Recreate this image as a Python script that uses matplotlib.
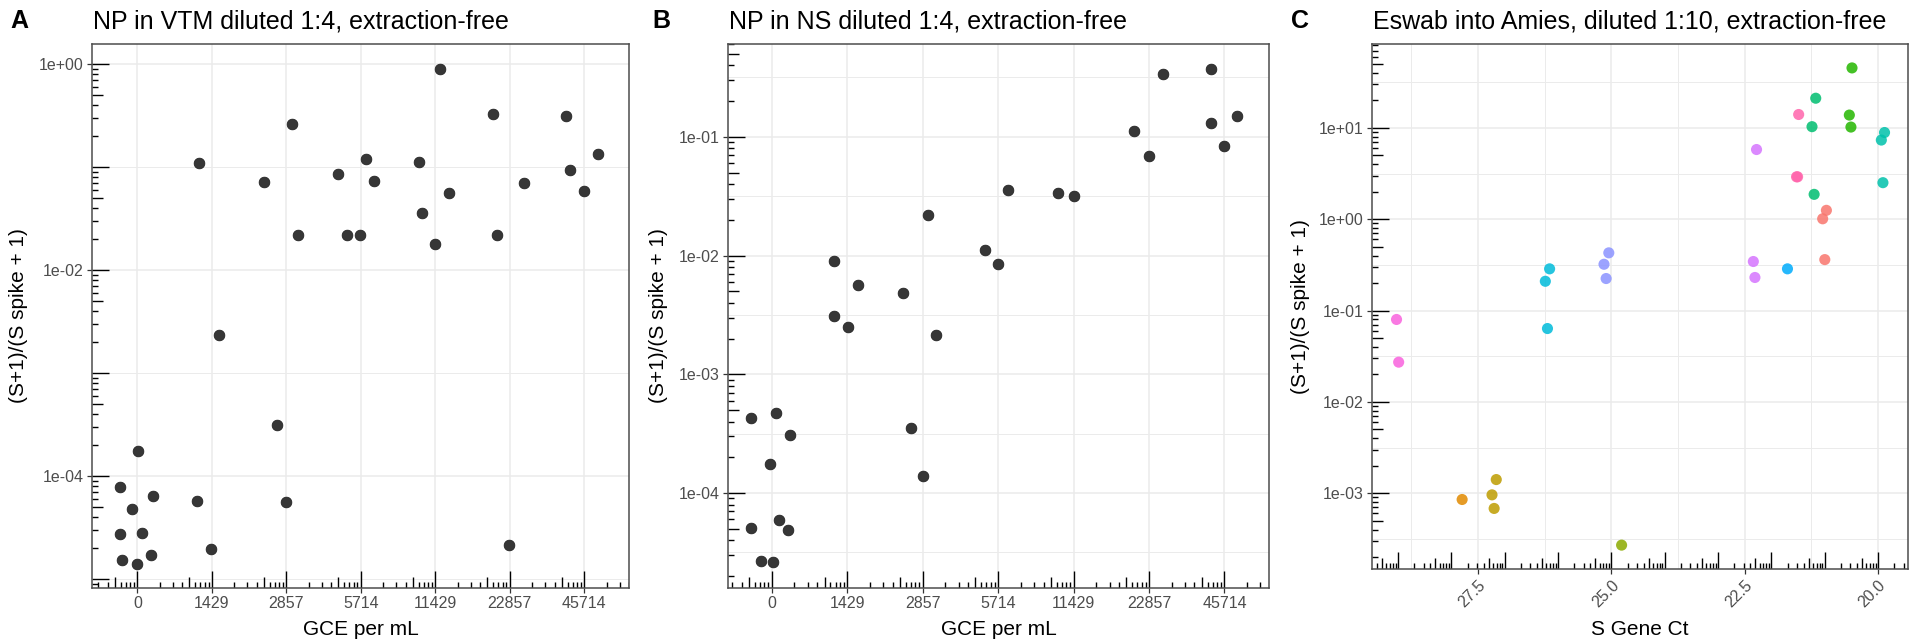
import numpy as np
import matplotlib
matplotlib.use('Agg')
import matplotlib.pyplot as plt
from matplotlib.collections import LineCollection
from matplotlib.ticker import FixedLocator, NullLocator, NullFormatter

plt.rcParams['font.family'] = ['Liberation Sans', 'DejaVu Sans']

# ---- data -------------------------------------------------------------
dose_labels = ['0', '1429', '2857', '5714', '11429', '22857', '45714']

# panel A: NP in VTM (x = jittered dose index)
vtm_x = [0.825, 1.70, 2.07, 2.16, 2.69, 2.81, 2.99, 3.07, 3.17, 3.78, 3.82, 4.00,
         4.06, 4.18, 4.78, 4.83, 5.19, 5.75, 5.81, 6.00, 6.19, 1.10, 1.87, 0.01,
         -0.23, 0.21, 0.80, 1.99, -0.07, -0.24, 0.06, 0.99, 4.99, -0.21, 0.00, 0.18]
vtm_ratio = [0.109, 0.0715, 0.259, 0.0217, 0.0861, 0.0219, 0.0219, 0.120, 0.0726,
             0.112, 0.0355, 0.0179, 0.893, 0.0560, 0.330, 0.0217, 0.0705, 0.313,
             0.0929, 0.0589, 0.133, 0.00234, 0.000313, 0.000174, 7.76e-5, 6.40e-5,
             5.75e-5, 5.60e-5, 4.74e-5, 2.74e-5, 2.82e-5, 1.97e-5, 2.15e-5, 1.52e-5,
             1.41e-5, 1.70e-5]

# panel B: NP in NS
ns_x = [5.82, 5.18, 6.17, 5.82, 4.80, 5.99, 5.00, 3.13, 3.80, 4.00, 2.07, 2.83,
        3.00, 0.83, 1.14, 1.74, 0.83, 1.01, 2.18, -0.27, 0.05, 0.24, 1.84, -0.02,
        2.01, -0.28, 0.10, 0.22, -0.14, 0.01]
ns_ratio = [0.372, 0.338, 0.151, 0.130, 0.113, 0.0830, 0.0692, 0.0356, 0.0338,
            0.0315, 0.0218, 0.0112, 0.00845, 0.00902, 0.00568, 0.00482, 0.00309,
            0.00250, 0.00215, 0.000427, 0.000468, 0.000309, 0.000356, 0.000174,
            0.000140, 5.08e-5, 5.93e-5, 4.85e-5, 2.67e-5, 2.61e-5]

# panel C: Eswab into Amies, one colour per sample
sample_colors = ['#F8766D', '#E18A00', '#BE9C00', '#8CAB00', '#24B700', '#00BE70',
                 '#00C1AB', '#00BBDA', '#00ACFC', '#8B93FF', '#D575FE', '#F962DD',
                 '#FF65AC']
eswab_group = [0, 0, 0, 1, 2, 2, 2, 3, 4, 4, 4, 5, 5, 5, 6, 6, 6, 7, 7, 7, 8,
               9, 9, 9, 10, 10, 10, 11, 11, 12, 12, 12]
eswab_ct = [20.97, 21.04, 21.00, 27.80, 27.16, 27.24, 27.20, 24.81, 20.49, 20.54,
            20.51, 21.17, 21.24, 21.20, 19.88, 19.94, 19.91, 26.16, 26.24, 26.20,
            21.70, 25.05, 25.14, 25.10, 22.28, 22.34, 22.31, 29.03, 28.99, 21.49,
            21.53, 21.51]
eswab_ratio = [1.25, 1.01, 0.361, 0.000853, 0.00141, 0.000959, 0.000681, 0.000270,
               45.3, 13.8, 10.2, 21.1, 10.3, 1.87, 8.89, 7.35, 2.51, 0.286, 0.209,
               0.0635, 0.286, 0.428, 0.321, 0.224, 5.79, 0.344, 0.230, 0.0798,
               0.0272, 14.0, 2.91, 2.91]

# ---- layout -----------------------------------------------------------
W, H = 1915, 640
fig = plt.figure(figsize=(W / 100, H / 100), dpi=100)

LONG, MID, SHORT = 17, 11.3, 5.7  # logtick lengths in px


def add_panel(l, r, t, b):
    ax = fig.add_axes([l / W, 1 - b / H, (r - l) / W, (b - t) / H])
    ax.px = (r - l, b - t)
    return ax


def style(ax):
    for s in ax.spines.values():
        s.set_color('#4d4d4d')
        s.set_linewidth(1.1)
        s.set_zorder(5)
    ax.tick_params(which='major', direction='out', length=3.6, width=0.9,
                   color='#333333', labelsize=11.5, labelcolor='#4d4d4d', pad=2.5)
    ax.tick_params(which='minor', length=0)
    ax.grid(which='major', color='#ebebeb', lw=1.1)
    ax.grid(which='minor', color='#ebebeb', lw=0.7)
    ax.set_axisbelow(True)


def tick_len(k):
    return LONG if k == 1 else (MID if k == 5 else SHORT)


def y_logticks(ax, d0, d1):
    segs = []
    for d in range(d0, d1 + 1):
        for k in range(1, 10):
            y = k * 10.0 ** d
            segs.append([(0, y), (tick_len(k) / ax.px[0], y)])
    lc = LineCollection(segs, colors='black', linewidths=1.0,
                        transform=ax.get_yaxis_transform(), zorder=3)
    ax.add_collection(lc, autolim=False)


def x_logticks(ax, n0, n1, sign=1):
    segs = []
    for n in range(n0, n1 + 1):
        for k in range(1, 10):
            x = n + sign * np.log10(k)
            segs.append([(x, 0), (x, tick_len(k) / ax.px[1])])
    lc = LineCollection(segs, colors='black', linewidths=1.0,
                        transform=ax.get_xaxis_transform(), zorder=3)
    ax.add_collection(lc, autolim=False)


def log_axis(ax, major, minor):
    ax.set_yscale('log')
    ax.yaxis.set_major_locator(FixedLocator(major))
    ax.yaxis.set_minor_locator(FixedLocator(minor))
    ax.yaxis.set_minor_formatter(NullFormatter())
    ax.set_yticklabels([f'{v:.0e}' for v in major])


axA = add_panel(92, 629, 44, 588)
axB = add_panel(728, 1269, 44, 588)
axC = add_panel(1372, 1908, 44, 569)

# panel A
style(axA)
axA.scatter(vtm_x, vtm_ratio, s=60, facecolor='#363636', edgecolor='#1a1a1a',
            linewidths=0.5, zorder=4)
log_axis(axA, [1, 1e-2, 1e-4], [1e-1, 1e-3, 1e-5])
axA.set_ylim(10 ** -5.087, 10 ** 0.194)
axA.set_xlim(-0.61, 6.6)
axA.set_xticks(range(len(dose_labels)), dose_labels)
axA.xaxis.set_minor_locator(NullLocator())
y_logticks(axA, -6, 0)
x_logticks(axA, -1, 6)

# panel B
style(axB)
axB.scatter(ns_x, ns_ratio, s=60, facecolor='#363636', edgecolor='#1a1a1a',
            linewidths=0.5, zorder=4)
log_axis(axB, [1e-1, 1e-2, 1e-3, 1e-4], [10 ** -v for v in (0.5, 1.5, 2.5, 3.5, 4.5)])
axB.set_ylim(10 ** -4.80, 10 ** -0.218)
axB.set_xlim(-0.58, 6.59)
axB.set_xticks(range(len(dose_labels)), dose_labels)
axB.xaxis.set_minor_locator(NullLocator())
y_logticks(axB, -5, 0)
x_logticks(axB, -1, 6)

# panel C
style(axC)
axC.scatter(eswab_ct, eswab_ratio, s=64, c=[sample_colors[g] for g in eswab_group],
            alpha=0.85, linewidths=0, zorder=4)
log_axis(axC, [1e1, 1, 1e-1, 1e-2, 1e-3], [10 ** v for v in (1.5, 0.5, -0.5, -1.5, -2.5, -3.5)])
axC.set_ylim(10 ** -3.83, 10 ** 1.918)
axC.set_xlim(29.49, 19.44)
ct_ticks = [27.5, 25.0, 22.5, 20.0]
axC.set_xticks(ct_ticks, [f'{v:.1f}' for v in ct_ticks])
axC.xaxis.set_minor_locator(FixedLocator([28.75, 26.25, 23.75, 21.25]))
for lab in axC.get_xticklabels():
    lab.set_rotation(45)
    lab.set_ha('right')
    lab.set_va('top')
    lab.set_rotation_mode('anchor')
y_logticks(axC, -4, 1)
x_logticks(axC, 19, 30, sign=-1)

# ---- text -------------------------------------------------------------
ylab = '(S+1)/(S spike + 1)'
panels = [
    (axA, 'A', 10, 93, 'NP in VTM diluted 1:4, extraction-free', 19, 316, 'GCE per mL'),
    (axB, 'B', 652, 729, 'NP in NS diluted 1:4, extraction-free', 659, 316, 'GCE per mL'),
    (axC, 'C', 1291, 1373, 'Eswab into Amies, diluted 1:10, extraction-free', 1301, 306.5, 'S Gene Ct'),
]
for ax, letter, lx, tx, title, yx, yy, xlab in panels:
    fig.text(lx / W, 1 - 28 / H, letter, fontsize=18, fontweight='bold', va='baseline')
    fig.text(tx / W, 1 - 28 / H, title, fontsize=18, va='baseline')
    fig.text(yx / W, 1 - yy / H, ylab, fontsize=15, rotation=90, ha='center', va='center')
    bb = ax.get_position()
    fig.text((bb.x0 + bb.x1) / 2, 1 - 635 / H, xlab, fontsize=15, ha='center', va='baseline')

fig.savefig('out.png', dpi=100, facecolor='white')
